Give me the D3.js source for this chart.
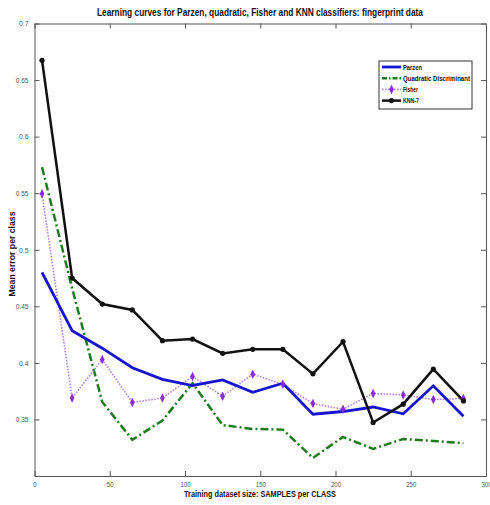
<!DOCTYPE html>
<html>
<head>
<meta charset="utf-8">
<script src="https://cdn.jsdelivr.net/npm/d3@7"></script>
<style>
  body { margin: 0; background: #fff; }
  svg { display: block; }
  .narrow { font-family: "Liberation Sans Narrow", "Arial Narrow", "Liberation Sans", sans-serif; }
</style>
</head>
<body>
<svg id="chart"></svg>
<script>
// training set sizes (samples per class)
const sizes = [5, 25, 45, 65, 85, 105, 125, 145, 165, 185, 205, 225, 245, 265, 285];
// mean error per class for each classifier
const parzen = [0.480, 0.4285, 0.413, 0.3957, 0.3854, 0.380, 0.385, 0.374, 0.382, 0.3546, 0.357, 0.361, 0.355, 0.3797, 0.3528];
const quadratic = [0.573, 0.466, 0.3655, 0.332, 0.349, 0.382, 0.345, 0.3416, 0.341, 0.316, 0.3345, 0.324, 0.3327, 0.331, 0.329];
const fisher = [0.5496, 0.369, 0.403, 0.365, 0.369, 0.388, 0.3706, 0.390, 0.381, 0.364, 0.359, 0.373, 0.3717, 0.3676, 0.3685];
const knn = [0.6675, 0.475, 0.452, 0.4468, 0.4196, 0.421, 0.4084, 0.412, 0.412, 0.3903, 0.4187, 0.3473, 0.3635, 0.3945, 0.3664];
const seriesNames = ["Parzen", "Quadratic Discriminant", "Fisher", "KNN-7"];
const xTicks = [0, 50, 100, 150, 200, 250, 300];
const yTicks = [0.35, 0.4, 0.45, 0.5, 0.55, 0.6, 0.65, 0.7];

const width = 490, height = 505;
const margin = { top: 23.5, right: 4, bottom: 29, left: 34.5 };

const svg = d3.select("#chart").attr("width", width).attr("height", height);

const x = d3.scaleLinear().domain([0, 300]).range([margin.left, width - margin.right]);
const y = d3.scaleLinear().domain([0.3, 0.7]).range([height - margin.bottom, margin.top]);

// axes, matlab style: ticks pointing inward, box around
const frame = "#555";
const tickLen = 5;

svg.append("g")
  .attr("transform", `translate(0, ${y(0.3)})`)
  .call(d3.axisBottom(x).tickValues(xTicks).tickSizeInner(-tickLen).tickSizeOuter(0).tickPadding(6).tickFormat(d3.format("d")))
  .call(g => g.selectAll("text").attr("class", "narrow").attr("fill", "#555").attr("font-size", 7)
    .attr("textLength", d => String(d).length * 3.4).attr("lengthAdjust", "spacingAndGlyphs"))
  .call(g => g.selectAll("line, path").attr("stroke", frame));

svg.append("g")
  .attr("transform", `translate(0, ${y(0.7)})`)
  .call(d3.axisTop(x).tickValues(xTicks).tickSizeInner(-tickLen).tickSizeOuter(0).tickFormat(""))
  .call(g => g.selectAll("line, path").attr("stroke", frame));

const yFmt = d => String(+d.toFixed(2));
svg.append("g")
  .attr("transform", `translate(${x(0)}, 0)`)
  .call(d3.axisLeft(y).tickValues(yTicks).tickSizeInner(-tickLen).tickSizeOuter(0).tickPadding(6).tickFormat(yFmt))
  .call(g => g.selectAll("text").attr("class", "narrow").attr("fill", "#555").attr("font-size", 7)
    .attr("textLength", d => yFmt(d).length * 3.2).attr("lengthAdjust", "spacingAndGlyphs"))
  .call(g => g.selectAll("line, path").attr("stroke", frame));

svg.append("g")
  .attr("transform", `translate(${x(300)}, 0)`)
  .call(d3.axisRight(y).tickValues(yTicks).tickSizeInner(-tickLen).tickSizeOuter(0).tickFormat(""))
  .call(g => g.selectAll("line, path").attr("stroke", frame));

// lines
const line = d3.line().x((d, i) => x(sizes[i])).y(d => y(d));

svg.append("path").datum(quadratic)
  .attr("fill", "none").attr("stroke", "#1f7a1f").attr("stroke-width", 2.5)
  .attr("stroke-dasharray", "8,3,2,3").attr("d", line);

svg.append("path").datum(fisher)
  .attr("fill", "none").attr("stroke", "#b07ee0").attr("stroke-width", 1.6)
  .attr("stroke-dasharray", "1.5,1.5").attr("d", line);

svg.append("path").datum(parzen)
  .attr("fill", "none").attr("stroke", "#1515d0").attr("stroke-width", 2.8).attr("d", line);

svg.append("path").datum(knn)
  .attr("fill", "none").attr("stroke", "#111").attr("stroke-width", 2.5).attr("d", line);

// markers
const diamond = d3.symbol().type(d3.symbolDiamond).size(26);
svg.selectAll(".fish").data(fisher).enter().append("path")
  .attr("transform", (d, i) => `translate(${x(sizes[i])}, ${y(d)}) scale(0.85, 1.0)`)
  .attr("d", diamond).attr("fill", "#8a2be2");

svg.selectAll(".knn").data(knn).enter().append("circle")
  .attr("cx", (d, i) => x(sizes[i])).attr("cy", d => y(d)).attr("r", 2.6)
  .attr("fill", "#111");

// title and labels
svg.append("text").attr("class", "narrow")
  .attr("x", 260).attr("y", 16).attr("text-anchor", "middle")
  .attr("font-size", 10).attr("font-weight", "bold").attr("fill", "#111")
  .attr("textLength", 326).attr("lengthAdjust", "spacingAndGlyphs")
  .text("Learning curves for Parzen, quadratic, Fisher and KNN classifiers: fingerprint data");

svg.append("text").attr("class", "narrow")
  .attr("x", 260).attr("y", 497).attr("text-anchor", "middle")
  .attr("font-size", 9.5).attr("font-weight", "bold").attr("fill", "#111")
  .attr("textLength", 152).attr("lengthAdjust", "spacingAndGlyphs")
  .text("Training dataset size: SAMPLES per CLASS");

svg.append("text").attr("class", "narrow")
  .attr("transform", `translate(15, 254) rotate(-90)`).attr("text-anchor", "middle")
  .attr("font-size", 9.5).attr("font-weight", "bold").attr("fill", "#111")
  .attr("textLength", 85).attr("lengthAdjust", "spacingAndGlyphs")
  .text("Mean error per class");

// legend
const lg = svg.append("g").attr("transform", "translate(379, 61)");
lg.append("rect").attr("width", 93).attr("height", 48)
  .attr("fill", "#fff").attr("stroke", "#333").attr("stroke-width", 1);

const legendStyles = [
  { color: "#1515d0", w: 2.8, dash: null, marker: null, len: 19 },
  { color: "#1f7a1f", w: 2.5, dash: "5,2,1.5,2", marker: null, len: 67 },
  { color: "#b07ee0", w: 1.6, dash: "1.5,1.5", marker: "diamond", len: 15 },
  { color: "#111", w: 2.5, dash: null, marker: "circle", len: 16 }
];

seriesNames.forEach((name, i) => {
  const s = legendStyles[i];
  const ly = 6 + i * 11.2;
  lg.append("line").attr("x1", 3).attr("x2", 22).attr("y1", ly).attr("y2", ly)
    .attr("stroke", s.color).attr("stroke-width", s.w)
    .attr("stroke-dasharray", s.dash);
  if (s.marker === "diamond") {
    lg.append("path").attr("transform", `translate(12.5, ${ly}) scale(0.85, 1.0)`)
      .attr("d", diamond).attr("fill", "#8a2be2");
  } else if (s.marker === "circle") {
    lg.append("circle").attr("cx", 12.5).attr("cy", ly).attr("r", 2.6).attr("fill", "#111");
  }
  lg.append("text").attr("class", "narrow")
    .attr("x", 24).attr("y", ly + 2.6)
    .attr("font-size", 7.5).attr("font-weight", "bold").attr("fill", "#111")
    .attr("textLength", s.len).attr("lengthAdjust", "spacingAndGlyphs")
    .text(name);
});
</script>
</body>
</html>
